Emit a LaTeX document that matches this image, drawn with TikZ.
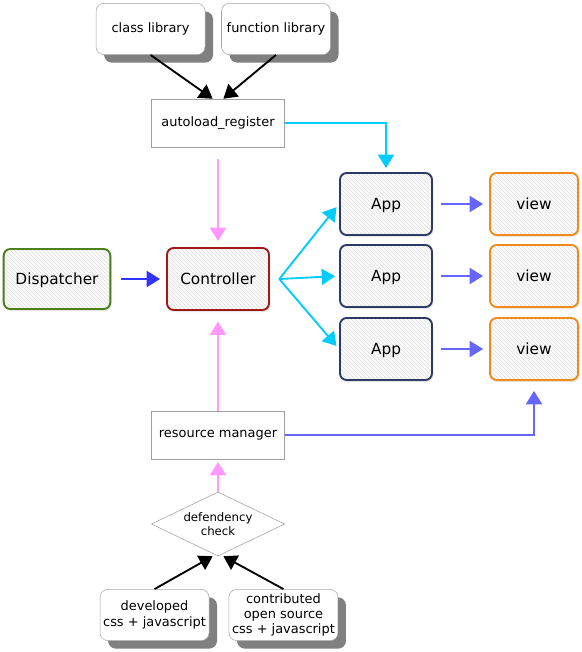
\documentclass[tikz,border=0pt]{standalone}
\usepackage{fontspec}
\setmainfont{DejaVu Sans}
\usepackage{tikz}
\usetikzlibrary{positioning,shapes.geometric,arrows.meta,shadows,patterns}

\definecolor{lnkcyan}{HTML}{00CCFF}
\definecolor{lnkpink}{HTML}{FF99FF}
\definecolor{lnkblue}{HTML}{3333FF}
\definecolor{lnkviolet}{HTML}{6666FF}
\definecolor{dispgreen}{HTML}{4A7F1A}
\definecolor{ctrlred}{HTML}{A01818}
\definecolor{appnavy}{HTML}{2E3A66}
\definecolor{vieworange}{HTML}{F08A1A}

\begin{document}
\begin{tikzpicture}[%
    x=0.75pt, y=-0.75pt,
    >={Triangle[length=10pt,width=12pt]},
    node distance=117pt, align=center, inner sep=0pt,
    small/.style={font=\fontsize{9.7}{11.5}\selectfont},
    big/.style={font=\fontsize{11.5}{13}\selectfont},
    libbox/.style={small, draw=gray!70, fill=white, rounded corners=6pt,
      minimum width=81.75pt, minimum height=38.5pt,
      drop shadow={shadow xshift=6pt, shadow yshift=-6pt, fill=gray, opacity=1}},
    stepbox/.style={small, draw=gray!75, fill=white,
      minimum width=100pt, minimum height=36pt},
    modbox/.style={big, line width=1.4pt, rounded corners=5pt,
      text height=8.4pt, text depth=0pt,
      preaction={drop shadow={shadow xshift=1pt, shadow yshift=-1.5pt, opacity=.2}},
      preaction={fill=gray!5}, pattern=north west lines, pattern color=gray!22,
      minimum height=46.5pt},
    checkbox/.style={diamond, aspect=2.08, draw=gray!75, fill=white,
      font=\fontsize{8.8}{11}\selectfont, minimum width=100pt, minimum height=48pt},
    link/.style={->, line width=1.4pt}
  ]
    \useasboundingbox (0,0) rectangle (581,652);

    \node[modbox, draw=ctrlred, minimum width=76.5pt] (ctrl) at (218,279) {Controller};

    \node[stepbox] (reg) [above of=ctrl] {autoload\_register};

    \node[libbox] (cls) [above of=reg, node distance=70.5pt, xshift=-50.6pt] {class library};

    \node[libbox] (fun) [above of=reg, node distance=70.5pt, xshift=43.5pt] {function library};

    \node[modbox, draw=dispgreen, minimum width=80pt, minimum height=45pt] (disp) [left of=ctrl, node distance=120.75pt] {Dispatcher};

    \node[modbox, draw=appnavy, minimum width=69pt] (app2) [right of=ctrl, node distance=126pt, yshift=2.25pt] {App};

    \node[modbox, draw=appnavy, minimum width=69pt] (app1) [above of=app2, node distance=54pt] {App};

    \node[modbox, draw=appnavy, minimum width=69pt] (app3) [below of=app2, node distance=54.75pt] {App};

    \node[modbox, draw=vieworange, minimum width=66pt] (view1) [right of=app1, node distance=111pt] {view};

    \node[modbox, draw=vieworange, minimum width=66pt] (view2) [right of=app2, node distance=111pt] {view};

    \node[modbox, draw=vieworange, minimum width=66pt] (view3) [right of=app3, node distance=111pt] {view};

    \node[stepbox] (res) [below of=ctrl] {resource manager};

    \node[checkbox] (check) [below of=res, node distance=66.75pt] {defendency\\check};

    \node[libbox] (dev) [below of=check, node distance=68.25pt, xshift=-47.6pt] {developed\\css + javascript};

    \node[libbox] (contrib) [below of=check, node distance=68.25pt, xshift=49.1pt] {contributed\\open source\\css + javascript};

    \coordinate (fork) at ([xshift=7pt]ctrl.east);

          \path[link, black] (cls.south) edge ([xshift=-4pt]reg.north)
          (fun.south) edge ([xshift=4pt]reg.north)
          (dev.north) edge ([xshift=-4pt]check.south)
          (contrib.north) edge ([xshift=4pt]check.south)
          ;

          \path[link, lnkpink] (reg.south) edge [shorten <=9pt, shorten >=4.5pt] (ctrl.north)
          (res.north) edge [shorten >=8pt] (ctrl.south)
          (check.north) edge [shorten >=2pt] (res.south)
          ;

          \path[link, lnkcyan, shorten >=3pt] (fork) edge (app1.west)
          (fork) edge (app2.west)
          (fork) edge (app3.west)
          ;
          \draw[link, lnkcyan, shorten >=3pt] (reg.east) -| (app1.north);

          \draw[link, lnkblue, shorten <=7.5pt, shorten >=4.5pt] (disp.east) -- (ctrl.west);

          \path[link, lnkviolet, shorten <=6pt, shorten >=4.5pt] (app1.east) edge (view1.west)
          (app2.east) edge (view2.west)
          (app3.east) edge (view3.west)
          ;
          \draw[link, lnkviolet, shorten >=7.5pt] (res.east) -| (view3.south);
  \end{tikzpicture}
\end{document}
